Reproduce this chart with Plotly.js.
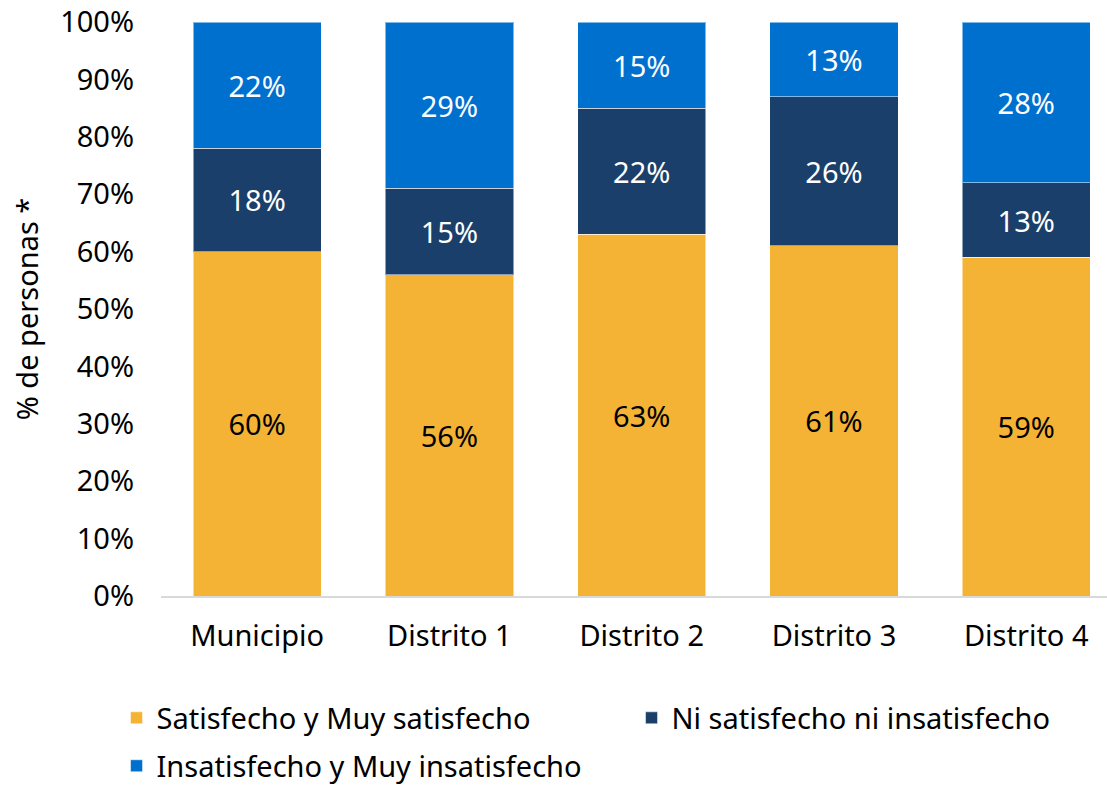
<!DOCTYPE html>
<html>
<head>
<meta charset="utf-8">
<script src="https://cdn.plot.ly/plotly-3.0.1.min.js"></script>
<style>html,body{margin:0;padding:0;background:#fff;}#chart{width:1107px;height:785px;}</style>
</head>
<body>
<div id="chart"></div>
<script>
const categories = ["Municipio", "Distrito 1", "Distrito 2", "Distrito 3", "Distrito 4"];
const satisfecho = [60, 56, 63, 61, 59];
const neutral = [18, 15, 22, 26, 13];
const insatisfecho = [22, 29, 15, 13, 28];
const seriesNames = ["Satisfecho y Muy satisfecho", "Ni satisfecho ni insatisfecho", "Insatisfecho y Muy insatisfecho"];
const yTickVals = [0, 10, 20, 30, 40, 50, 60, 70, 80, 90, 100];
const yTickText = ["0%", "10%", "20%", "30%", "40%", "50%", "60%", "70%", "80%", "90%", "100%"];

const FONT = "Noto Sans, sans-serif";
const FS = 29;
function mk(vals, name, color, txtColor, legendId) {
  return {
    type: "bar", x: categories, y: vals, name: name,
    marker: {color: color, line: {color: "rgba(255,255,255,0.5)", width: 1}},
    text: vals.map(v => v + "%"), textposition: "inside", insidetextanchor: "middle",
    textfont: {family: FONT, size: FS, color: txtColor}, constraintext: "none",
    hoverinfo: "skip", legend: legendId
  };
}
const data = [
  mk(satisfecho, seriesNames[0], "#F4B335", "#000000", "legend"),
  mk(neutral, seriesNames[1], "#1B3F6B", "#ffffff", "legend2"),
  mk(insatisfecho, seriesNames[2], "#0070CF", "#ffffff", "legend3")
];
const legFont = {family: FONT, size: FS, color: "#000"};
const layout = {
  width: 1107, height: 785,
  margin: {l: 161, r: 0, t: 22, b: 189, autoexpand: false},
  paper_bgcolor: "#fff", plot_bgcolor: "#fff",
  barmode: "stack", bargap: 0.333,
  font: {family: FONT, size: FS, color: "#000"},
  xaxis: {range: [-0.5, 4.42], showline: true, linecolor: "#d9d9d9", linewidth: 2, automargin: false,
          ticks: "", tickfont: {family: FONT, size: FS, color: "#000"}, ticklabelstandoff: 13, fixedrange: true},
  yaxis: {range: [0, 100], tickvals: yTickVals, ticktext: yTickText, showgrid: false, zeroline: false, automargin: false,
          showline: false, ticks: "", tickfont: {family: FONT, size: FS, color: "#000"}, ticklabelstandoff: 26,
          title: {text: "% de personas *", font: {family: FONT, size: FS, color: "#000"}, standoff: 12}},
  showlegend: true,
  legend: {orientation: "h", x: -0.047, y: -0.2125, xanchor: "left", yanchor: "middle", font: legFont},
  legend2: {orientation: "h", x: 0.4974, y: -0.2125, xanchor: "left", yanchor: "middle", font: legFont},
  legend3: {orientation: "h", x: -0.047, y: -0.296, xanchor: "left", yanchor: "middle", font: legFont}
};
Plotly.newPlot("chart", data, layout, {displayModeBar: false, staticPlot: true});
</script>
</body>
</html>
